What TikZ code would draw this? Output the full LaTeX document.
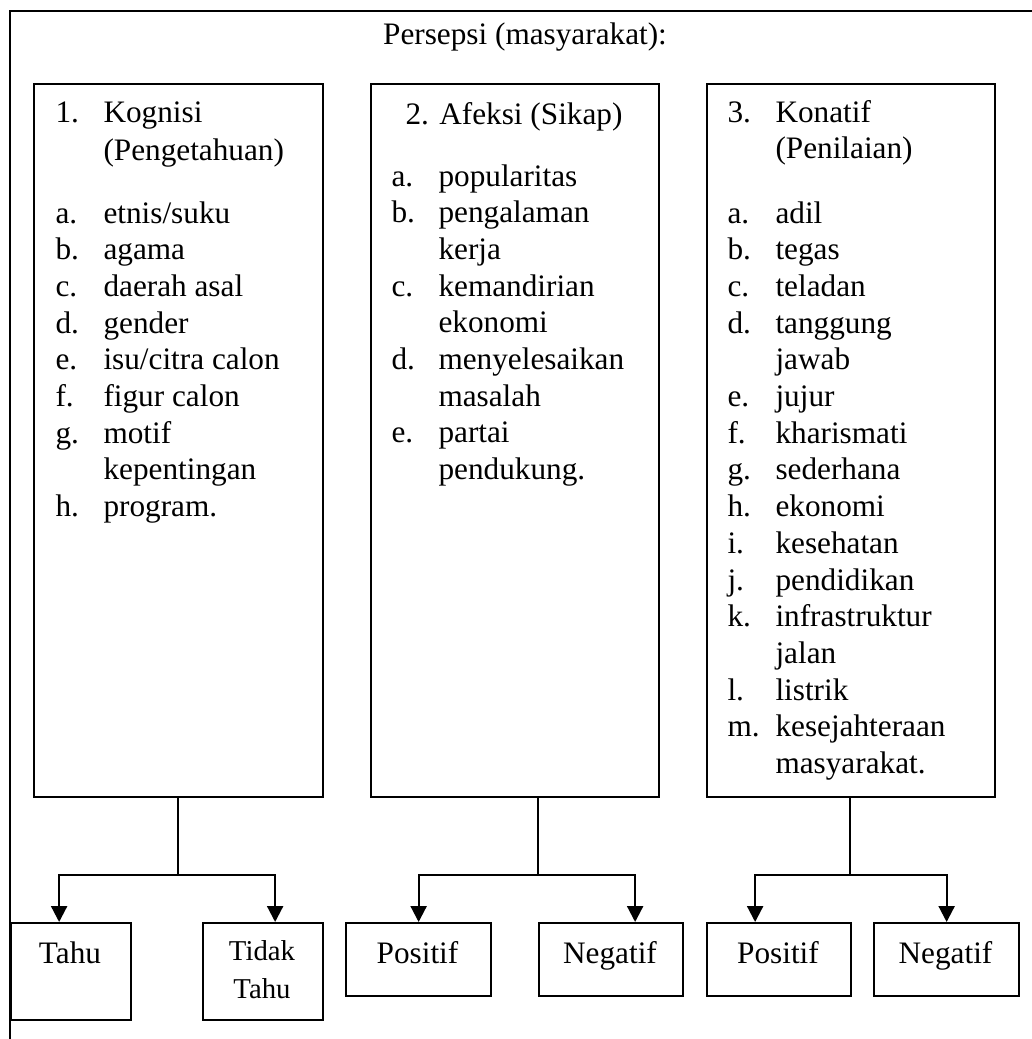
\documentclass[tikz,border=0pt]{standalone}
\usepackage{fontspec}
\setmainfont{Liberation Serif}
\usetikzlibrary{arrows.meta, positioning}
\newlength\px
\setlength\px{0.4pt}
\tikzset{
  box/.style={draw, line width=0.9pt, anchor=north west, inner sep=0pt},
  txt/.style={anchor=base west, inner sep=0pt},
  ctxt/.style={anchor=base, inner sep=0pt},
  branch/.style={-{Triangle[width=6.4pt, length=6.4pt]}, line width=0.9pt},
  smalltxt/.style={ctxt, font=\fontsize{11.5}{14}\selectfont}
}

\begin{document}
\begin{tikzpicture}[x=\px, y=-\px, font=\fontsize{12.5}{14.7}\selectfont]
    \useasboundingbox (0,0) rectangle (1032,1039);

    % FRAME
    \draw[line width=0.9pt] (10,1039) |- (1032,11);

    % TITLE
    \node[ctxt] (title) at (525,45) {Persepsi (masyarakat):};

    % MAIN BOXES
    \node[box, minimum width=289\px, minimum height=713\px] (kog) at (33,83) {};
    \node[box, minimum width=288\px, minimum height=713\px] (afek) at (370,83) {};
    \node[box, minimum width=288\px, minimum height=713\px] (kon) at (706,83) {};

    % HEADINGS
    \node[txt] (kog1) at (55,123) {1.};
    \node[txt] (kog2) at (103,123) {Kognisi};
    \node[txt] (kog3) at (103,160) {(Pengetahuan)};
    \node[ctxt] (afek1) at (514,125) {2. Afeksi (Sikap)};
    \node[txt] (kon1) at (727,122) {3.};
    \node[txt] (kon2) at (775,122) {Konatif};
    \node[txt] (kon3) at (775,159) {(Penilaian)};

    % ITEMS
    \foreach \lab/\entry [count=\i] in {a./{etnis/suku}, b./agama, c./daerah asal,
        d./gender, e./{isu/citra calon}, f./figur calon, g./motif, /kepentingan, h./program.}
      {\node[txt] at (55,{223+(\i-1)*36.7}) {\lab};
       \node[txt] at (103,{223+(\i-1)*36.7}) {\entry};}
    \foreach \lab/\entry [count=\i] in {a./popularitas, b./pengalaman, /kerja,
        c./kemandirian, /ekonomi, d./menyelesaikan, /masalah, e./partai, /pendukung.}
      {\node[txt] at (391,{186+(\i-1)*36.7}) {\lab};
       \node[txt] at (438,{186+(\i-1)*36.7}) {\entry};}
    \foreach \lab/\entry [count=\i] in {a./adil, b./tegas, c./teladan, d./tanggung,
        /jawab, e./jujur, f./kharismati, g./sederhana, h./ekonomi, i./kesehatan,
        j./pendidikan, k./infrastruktur, /jalan, l./listrik, m./kesejahteraan, /masyarakat.}
      {\node[txt] at (727,{223+(\i-1)*36.7}) {\lab};
       \node[txt] at (775,{223+(\i-1)*36.7}) {\entry};}

    % RESULT BOXES
    \node[box, minimum width=120\px, minimum height=97\px] (tahu) at (10,922) {};
    \node[box, minimum width=120\px, minimum height=97\px] (tdk) at (202,922) {};
    \node[box, minimum width=145\px, minimum height=73\px] (pos2) at (345,922) {};
    \node[box, minimum width=144\px, minimum height=73\px] (neg2) at (538,922) {};
    \node[box, minimum width=144\px, minimum height=73\px] (pos3) at (706,922) {};
    \node[box, minimum width=145\px, minimum height=73\px] (neg3) at (873,922) {};

    \node[ctxt] at (70,963) {Tahu};
    \node[smalltxt] at (262,960) {Tidak};
    \node[smalltxt] at (262,998) {Tahu};
    \node[ctxt] at (417.5,963) {Positif};
    \node[ctxt] at (610,963) {Negatif};
    \node[ctxt] at (778,963) {Positif};
    \node[ctxt] at (945.5,963) {Negatif};

    % BRANCHES
    \coordinate (j1) at (178,875);
    \coordinate (j2) at (538,875);
    \coordinate (j3) at (850,875);

    \draw[line width=0.9pt] (kog.south -| j1) -- (j1);
    \draw[line width=0.9pt] (afek.south -| j2) -- (j2);
    \draw[line width=0.9pt] (kon.south -| j3) -- (j3);

    \draw[branch] (j1) -| ([xshift=-4.8pt]tahu.north);
    \draw[branch] (j1) -| ([xshift=4.8pt]tdk.north);
    \draw[branch] (j2) -| (pos2.north);
    \draw[branch] (j2) -| ([xshift=9.6pt]neg2.north);
    \draw[branch] (j3) -| ([xshift=-9.6pt]pos3.north);
    \draw[branch] (j3) -| (neg3.north);

\end{tikzpicture}
\end{document}
